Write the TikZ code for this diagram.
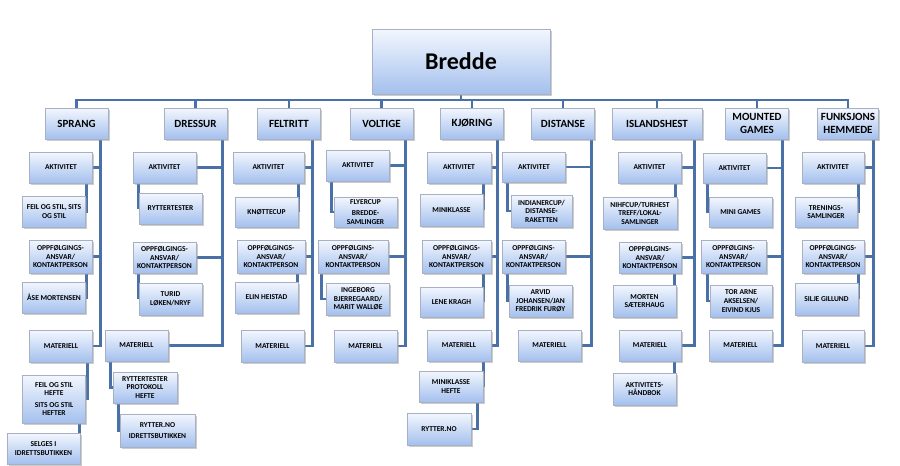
\documentclass[tikz,border=0pt]{standalone}
\usepackage{fontspec}
\setmainfont{Carlito}
\usepackage{tikz}
\usetikzlibrary{positioning,shadows,backgrounds}
\definecolor{linkBlue}{HTML}{4A70A8}
\definecolor{boxTop}{HTML}{F3F7FE}
\definecolor{boxBottom}{HTML}{A4C0EE}
\definecolor{boxEdge}{HTML}{A7B1C3}

\begin{document}
\begin{tikzpicture}[x=1pt, y=-1pt,
  unit/.style={rectangle, draw=boxEdge, line width=0.5pt, top color=boxTop, bottom color=boxBottom, drop shadow={shadow xshift=1.5pt, shadow yshift=-1.5pt, fill=black!40, opacity=0.5}, minimum width=63pt, minimum height=31pt, align=center, inner sep=0.5pt, font=\bfseries\fontsize{7.5}{8.6}\selectfont},
  branch/.style={unit, font=\bfseries\fontsize{11}{12.5}\selectfont},
  root/.style={unit, minimum width=178pt, minimum height=65pt, font=\bfseries\fontsize{24}{26}\selectfont},
  link/.style={draw=linkBlue, line width=2.6pt}
]
\useasboundingbox (0,0) rectangle (900,466);
\node[root] (bredde) at (461,61.5) {Bredde};
\coordinate (bus) at (461,100);
% second level
\node[branch] (sprang) at (76.5,123.5) {SPRANG};
\node[branch] (dressur) at (195.5,123.5) {DRESSUR};
\node[branch] (feltritt) at (289,123.5) {FELTRITT};
\node[branch] (voltige) at (381.5,123.5) {VOLTIGE};
\node[branch] (kjoring) at (472,123.5) {KJØRING};
\node[branch] (distanse) at (563,123.5) {DISTANSE};
\node[branch, minimum width=90pt] (islandshest) at (657,123.5) {ISLANDSHEST};
\node[branch] (mounted) at (757,123.5) {MOUNTED\\GAMES};
\node[branch, minimum width=61pt] (funksjon) at (848,123.5) {FUNKSJONS\\HEMMEDE};
% sprang
\node[unit] (aktA) at (61,167.5) {AKTIVITET};
\node[unit] (feilA) at (54,211.5) {FEIL OG STIL, SITS\\OG STIL};
\node[unit, minimum height=33pt] (oppA) at (60.5,256.5) {OPPFØLGINGS-\\ANSVAR/\\KONTAKTPERSON};
\node[unit] (personA) at (54,297.5) {ÅSE MORTENSEN};
\node[unit, minimum height=32pt] (matA) at (61,346) {MATERIELL};
\node[unit, minimum height=48pt] (hefteA) at (54,399) {FEIL OG STIL\\HEFTE\\[3pt]SITS OG STIL\\HEFTER};
\node[unit, minimum width=73pt] (selgesA) at (43.5,448.5) {SELGES I\\IDRETTSBUTIKKEN};
% dressur
\node[unit] (aktB) at (164.5,167.5) {AKTIVITET};
\node[unit] (ryttB) at (170.5,208.5) {RYTTERTESTER};
\node[unit] (oppB) at (164.5,257.5) {OPPFØLGINGS-\\ANSVAR/\\KONTAKTPERSON};
\node[unit, minimum height=32pt] (personB) at (170.5,299) {TURID\\LØKEN/NRYF};
\node[unit] (matB) at (136.5,345.5) {MATERIELL};
\node[unit, minimum width=64pt, font=\bfseries\fontsize{7.5}{8.8}\selectfont] (protB) at (145,387.5) {RYTTERTESTER\\PROTOKOLL\\HEFTE};
\node[unit, minimum width=75pt, minimum height=33pt] (nettB) at (157.5,430.5) {RYTTER.NO\\[3pt]IDRETTSBUTIKKEN};
% feltritt
\node[unit, minimum width=71pt] (aktC) at (268.5,167.5) {AKTIVITET};
\node[unit, minimum height=30pt] (knottC) at (266.5,212) {KNØTTECUP};
\node[unit, minimum width=68pt, minimum height=33pt] (oppC) at (271,256.5) {OPPFØLGINGS-\\ANSVAR/\\KONTAKTPERSON};
\node[unit] (personC) at (266.5,297.5) {ELIN HEISTAD};
\node[unit, minimum height=32pt] (matC) at (272.5,346) {MATERIELL};
% voltige
\node[unit] (aktD) at (358,165.5) {AKTIVITET};
\node[unit, minimum height=30pt] (flyerD) at (365.5,212) {FLYERCUP\\[2pt]BREDDE-\\SAMLINGER};
\node[unit, minimum width=70pt, minimum height=33pt] (oppD) at (353,256.5) {OPPFØLGINS-\\ANSVAR/\\KONTAKTPERSON};
\node[unit, minimum height=32pt] (personD) at (358,299) {INGEBORG\\BJERREGAARD/\\MARIT WALLØE};
\node[unit, minimum height=32pt] (matD) at (365.5,346) {MATERIELL};
% kjoring
\node[unit, minimum width=64pt] (aktE) at (459,167.5) {AKTIVITET};
\node[unit, minimum height=32pt] (miniE) at (451.5,210) {MINIKLASSE};
\node[unit, minimum width=69pt, minimum height=33pt] (oppE) at (456.5,256.5) {OPPFØLGINGS-\\ANSVAR/\\KONTAKTPERSON};
\node[unit, minimum height=30pt] (personE) at (451.5,302) {LENE KRAGH};
\node[unit, minimum width=64pt] (matE) at (459,345.5) {MATERIELL};
\node[unit, minimum width=64pt] (hefteE) at (451,386.5) {MINIKLASSE\\HEFTE};
\node[unit, minimum width=64pt, minimum height=32pt] (ryttE) at (439,429) {RYTTER.NO};
% distanse
\node[unit, minimum height=30pt] (aktF) at (534,167) {AKTIVITET};
\node[unit, minimum width=61pt, minimum height=32pt] (indF) at (541.5,211) {INDIANERCUP/\\DISTANSE-\\RAKETTEN};
\node[unit, minimum height=33pt] (oppF) at (533.5,256.5) {OPPFØLGINS-\\ANSVAR/\\KONTAKTPERSON};
\node[unit, minimum height=32pt] (personF) at (540.5,301) {ARVID\\JOHANSEN/JAN\\FREDRIK FURØY};
\node[unit] (matF) at (549.5,345.5) {MATERIELL};
% islandshest
\node[unit] (aktG) at (649.5,167.5) {AKTIVITET};
\node[unit, minimum width=74pt, minimum height=32pt] (nihfG) at (640,213) {NIHFCUP/TURHEST\\TREFF/LOKAL-\\SAMLINGER};
\node[unit, minimum width=62pt] (oppG) at (650,257.5) {OPPFØLGINS-\\ANSVAR/\\KONTAKTPERSON};
\node[unit, minimum height=32pt] (personG) at (644.5,301) {MORTEN\\SÆTERHAUG};
\node[unit, minimum width=62pt] (matG) at (650,345.5) {MATERIELL};
\node[unit, minimum height=32pt] (handG) at (644.5,389) {AKTIVITETS-\\HÅNDBOK};
% mounted games
\node[unit, minimum height=30pt] (aktH) at (734.5,168) {AKTIVITET};
\node[unit, minimum height=30pt] (miniH) at (740.5,212) {MINI GAMES};
\node[unit, minimum width=65pt, minimum height=33pt] (oppH) at (733.5,256.5) {OPPFØLGINS-\\ANSVAR/\\KONTAKTPERSON};
\node[unit, minimum width=62pt, minimum height=32pt] (personH) at (741,301) {TOR ARNE\\AKSELSEN/\\EIVIND KJUS};
\node[unit] (matH) at (740.5,345.5) {MATERIELL};
% funksjonshemmede
\node[unit, minimum width=62pt] (aktI) at (833,167.5) {AKTIVITET};
\node[unit, minimum width=62pt, minimum height=30pt] (trenI) at (826,212) {TRENINGS-\\SAMLINGER};
\node[unit, minimum width=62pt, minimum height=33pt] (oppI) at (833,256.5) {OPPFØLGINGS-\\ANSVAR/\\KONTAKTPERSON};
\node[unit, minimum height=32pt] (personI) at (826.5,299) {SILJE GILLUND};
\node[unit, minimum width=62pt, minimum height=32pt] (matI) at (833,346) {MATERIELL};

\begin{pgfonlayer}{background}
% top bus
\draw[link] (bredde.south) -- (bus);
\draw[link] (sprang.north) |- (bus) -| (funksjon.north);
\draw[link] (dressur.north) -- (dressur.north |- bus);
\draw[link] (feltritt.north) -- (feltritt.north |- bus);
\draw[link] (voltige.north) -- (voltige.north |- bus);
\draw[link] (kjoring.north) -- (kjoring.north |- bus);
\draw[link] (distanse.north) -- (distanse.north |- bus);
\draw[link] (islandshest.north) -- (islandshest.north |- bus);
\draw[link] (mounted.north) -- (mounted.north |- bus);
% column spines
\draw[link] ([xshift=-8pt]sprang.south east) |- (aktA.east) ([xshift=-8pt]sprang.south east) |- (oppA.east) ([xshift=-8pt]sprang.south east) |- (matA.east);
\draw[link] ([xshift=-5pt]dressur.south east) |- (aktB.east) ([xshift=-5pt]dressur.south east) |- (oppB.east) ([xshift=-5pt]dressur.south east) |- (matB.east);
\draw[link] ([xshift=-8pt]feltritt.south east) |- (aktC.east) ([xshift=-8pt]feltritt.south east) |- (oppC.east) ([xshift=-8pt]feltritt.south east) |- (matC.east);
\draw[link] ([xshift=-8pt]voltige.south east) |- (aktD.east) ([xshift=-8pt]voltige.south east) |- (oppD.east) ([xshift=-8pt]voltige.south east) |- (matD.east);
\draw[link] ([xshift=-6pt]kjoring.south east) |- (aktE.east) ([xshift=-6pt]kjoring.south east) |- (oppE.east) ([xshift=-6pt]kjoring.south east) |- (matE.east);
\draw[link] ([xshift=-3pt]distanse.south east) |- (aktF.east) ([xshift=-3pt]distanse.south east) |- (oppF.east) ([xshift=-3pt]distanse.south east) |- (matF.east);
\draw[link] ([xshift=-8pt]islandshest.south east) |- (aktG.east) ([xshift=-8pt]islandshest.south east) |- (oppG.east) ([xshift=-8pt]islandshest.south east) |- (matG.east);
\draw[link] ([xshift=-6pt]mounted.south east) |- (aktH.east) ([xshift=-6pt]mounted.south east) |- (oppH.east) ([xshift=-6pt]mounted.south east) |- (matH.east);
\draw[link] ([xshift=-5pt]funksjon.south east) |- (aktI.east) ([xshift=-5pt]funksjon.south east) |- (oppI.east) ([xshift=-5pt]funksjon.south east) |- (matI.east);
% hanging children
\draw[link] ([xshift=-6pt]aktA.south east) |- (feilA);
\draw[link] ([xshift=-6pt]oppA.south east) |- (personA);
\draw[link] ([xshift=-5pt]matA.south east) |- (hefteA);
\draw[link] ([xshift=-6pt]hefteA.south east) |- (selgesA);
\draw[link] ([xshift=6pt]aktB.south west) |- (ryttB);
\draw[link] ([xshift=6pt]oppB.south west) |- (personB);
\draw[link] ([xshift=6pt]matB.south west) |- (protB);
\draw[link] ([xshift=6pt]protB.south west) |- (nettB);
\draw[link] ([xshift=-6pt]aktC.south east) |- (knottC);
\draw[link] ([xshift=-8pt]oppC.south east) |- (personC);
\draw[link] ([xshift=5pt]aktD.south west) |- (flyerD);
\draw[link] ([xshift=4pt]oppD.south west) |- (personD);
\draw[link] ([xshift=-8pt]aktE.south east) |- (miniE);
\draw[link] ([xshift=-8pt]oppE.south east) |- (personE);
\draw[link] ([xshift=-8pt]matE.south east) |- (hefteE);
\draw[link] ([xshift=-6pt]hefteE.south east) |- (ryttE);
\draw[link] ([xshift=5pt]aktF.south west) |- (indF);
\draw[link] ([xshift=6pt]oppF.south west) |- (personF);
\draw[link] ([xshift=-6pt]aktG.south east) |- (nihfG);
\draw[link] ([xshift=-7pt]oppG.south east) |- (personG);
\draw[link] ([xshift=-7pt]matG.south east) |- (handG);
\draw[link] ([xshift=5pt]aktH.south west) |- (miniH);
\draw[link] ([xshift=7pt]oppH.south west) |- (personH);
\draw[link] ([xshift=-6pt]aktI.south east) |- (trenI);
\draw[link] ([xshift=-6pt]oppI.south east) |- (personI);
\end{pgfonlayer}
\end{tikzpicture}
\end{document}
